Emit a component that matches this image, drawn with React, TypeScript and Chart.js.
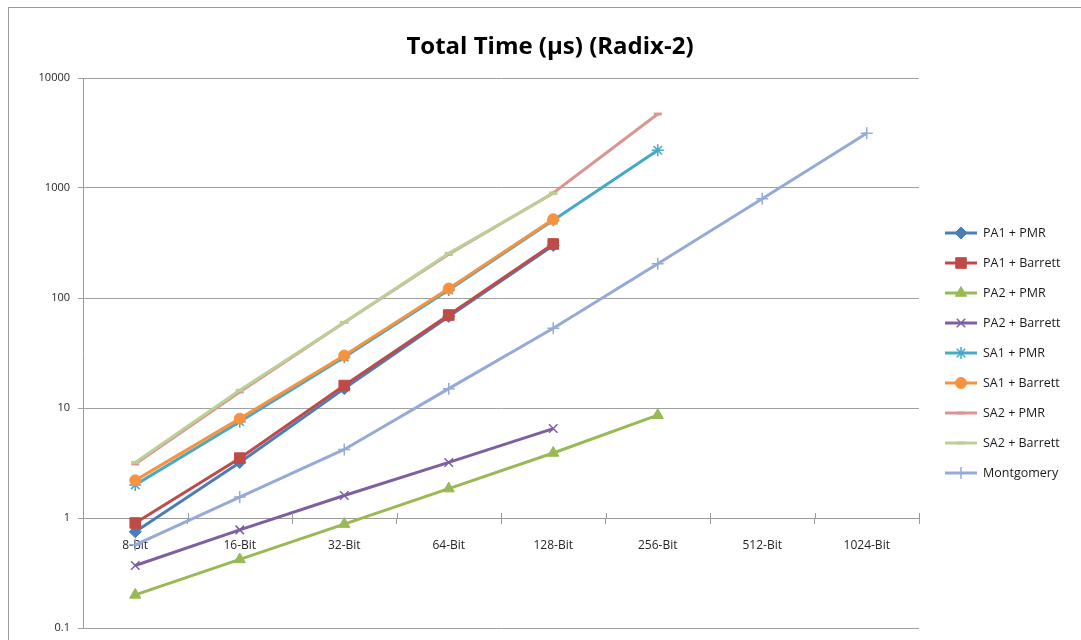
import React, { useEffect, useRef } from 'react';
import { Chart, registerables } from 'chart.js';
import { drawPoint } from 'chart.js/helpers';

Chart.register(...registerables);

const categories = ['8-Bit', '16-Bit', '32-Bit', '64-Bit', '128-Bit', '256-Bit', '512-Bit', '1024-Bit'];
const yTicks = [0.1, 1, 10, 100, 1000, 10000];

const pa1Pmr = [0.75, 3.2, 15, 68, 300];
const pa1Barrett = [0.9, 3.5, 16, 70, 310];
const pa2Pmr = [0.2, 0.42, 0.88, 1.85, 3.9, 8.6];
const pa2Barrett = [0.37, 0.78, 1.6, 3.2, 6.5];
const sa1Pmr = [2.0, 7.5, 29, 118, 510, 2200];
const sa1Barrett = [2.2, 8, 30, 122, 520];
const sa2Pmr = [3.1, 14, 60, 250, 900, 4700];
const sa2Barrett = [3.2, 14.5, 60, 255, 890];
const montgomery = [0.57, 1.55, 4.2, 15, 53, 205, 800, 3150];

const seriesNames = ['PA1 + PMR', 'PA1 + Barrett', 'PA2 + PMR', 'PA2 + Barrett', 'SA1 + PMR', 'SA1 + Barrett', 'SA2 + PMR', 'SA2 + Barrett', 'Montgomery'];
const seriesValues = [pa1Pmr, pa1Barrett, pa2Pmr, pa2Barrett, sa1Pmr, sa1Barrett, sa2Pmr, sa2Barrett, montgomery];
const seriesColors = ['#4A7EBB', '#BE4B48', '#98B954', '#7D60A0', '#46AAC5', '#F69240', '#DA9694', '#BBCF98', '#95AAD6'];
const seriesMarkers = ['rectRot', 'rect', 'triangle', 'crossRot', 'star', 'circle', 'line', 'line', 'cross'];
const markerRadius = [6, 7.5, 6.5, 6, 6, 5.5, 4, 4, 6];
const markerBorder = [1, 1, 1, 1.5, 1.5, 1, 3, 3, 1.5];

const FONT = '"Open Sans", "DejaVu Sans", sans-serif';

export default function App() {
  const ref = useRef<HTMLCanvasElement>(null);

  useEffect(() => {
    const n = seriesNames.length;
    const decorPlugin = {
      id: 'decor',
      afterDatasetsDraw(chart: any) {
        const ctx = chart.ctx;
        const area = chart.chartArea;
        const yScale = chart.scales.y;
        const y1 = yScale.getPixelForValue(1);
        ctx.save();
        ctx.strokeStyle = '#9a9a9a';
        ctx.lineWidth = 1;
        const cat = categories.length;
        for (let k = 1; k <= cat; k++) {
          const x = Math.round(area.left + (k * (area.right - area.left)) / cat) + 0.5;
          ctx.beginPath();
          ctx.moveTo(x, y1 - 5);
          ctx.lineTo(x, y1);
          ctx.stroke();
        }
        ctx.restore();
      },
      afterDraw(chart: any) {
        const ctx = chart.ctx;
        const area = chart.chartArea;
        ctx.save();
        ctx.fillStyle = '#000';
        ctx.font = `bold 24px ${FONT}`;
        ctx.textAlign = 'center';
        ctx.textBaseline = 'middle';
        ctx.fillText('Total Time (µs) (Radix-2)', 550, 47);
        ctx.font = `12.5px ${FONT}`;
        ctx.textAlign = 'left';
        for (let i = 0; i < n; i++) {
          const y = area.top + 155 + 30 * i;
          const x0 = area.right + 26;
          const x1 = x0 + 32;
          ctx.strokeStyle = seriesColors[i];
          ctx.fillStyle = seriesColors[i];
          ctx.lineWidth = 3;
          ctx.beginPath();
          ctx.moveTo(x0, y);
          ctx.lineTo(x1, y);
          ctx.stroke();
          ctx.lineWidth = markerBorder[i];
          drawPoint(ctx, { pointStyle: seriesMarkers[i] as any, radius: markerRadius[i], rotation: 0, borderWidth: markerBorder[i] } as any, (x0 + x1) / 2, y);
          ctx.fillStyle = '#1a1a1a';
          ctx.fillText(seriesNames[i], x1 + 6, y);
        }
        ctx.restore();
      },
    };

    const chart = new Chart(ref.current as HTMLCanvasElement, {
      type: 'line',
      data: {
        labels: categories,
        datasets: seriesValues.map((vals, i) => ({
          label: seriesNames[i],
          data: vals,
          borderColor: seriesColors[i],
          backgroundColor: seriesColors[i],
          pointBackgroundColor: seriesColors[i],
          pointBorderColor: seriesColors[i],
          pointStyle: seriesMarkers[i] as any,
          pointRadius: markerRadius[i],
          pointBorderWidth: markerBorder[i],
          borderWidth: 3,
          tension: 0,
          fill: false,
          order: n - i,
        })),
      },
      options: {
        animation: false,
        responsive: false,
        devicePixelRatio: 1,
        layout: { padding: { left: 0, right: 162, top: 78, bottom: 12 } },
        plugins: {
          legend: { display: false },
          title: { display: false },
          tooltip: { enabled: false },
        },
        scales: {
          x: {
            type: 'category',
            offset: true,
            position: { y: 1 } as any,
            afterFit: (scale: any) => {
              scale.height = 0;
            },
            grid: {
              display: true,
              drawOnChartArea: false,
              drawTicks: true,
              tickLength: 5,
              offset: true,
              color: '#9a9a9a',
            },
            border: { display: true, color: '#9a9a9a', width: 1 },
            ticks: {
              color: '#262626',
              font: { family: FONT, size: 12 },
              padding: 15,
              maxRotation: 0,
              autoSkip: false,
            },
          },
          y: {
            type: 'logarithmic',
            min: 0.1,
            max: 10000,
            afterBuildTicks: (scale: any) => {
              scale.ticks = yTicks.map((v) => ({ value: v }));
            },
            afterFit: (scale: any) => {
              scale.width = 83;
              scale.paddingTop = 0;
              scale.paddingBottom = 0;
            },
            grid: {
              color: '#a0a0a0',
              lineWidth: 1,
              drawTicks: true,
              tickLength: 5,
            },
            border: { display: true, color: '#9a9a9a', width: 1 },
            ticks: {
              color: '#262626',
              font: { family: FONT, size: 11 },
              padding: 8,
              callback: (v: any) => String(v),
            },
          },
        },
      },
      plugins: [decorPlugin],
    });
    return () => chart.destroy();
  }, []);

  return (
    <div style={{ position: 'fixed', left: 0, top: 0, width: 1081, height: 640, background: '#fff', overflow: 'hidden' }}>
      <div style={{ position: 'absolute', left: 8, top: 7, width: 1200, height: 800, borderLeft: '1px solid #9a9a9a', borderTop: '1px solid #9a9a9a' }} />
      <canvas ref={ref} width={1081} height={640} style={{ position: 'absolute', left: 0, top: 0, width: 1081, height: 640 }} />
    </div>
  );
}
